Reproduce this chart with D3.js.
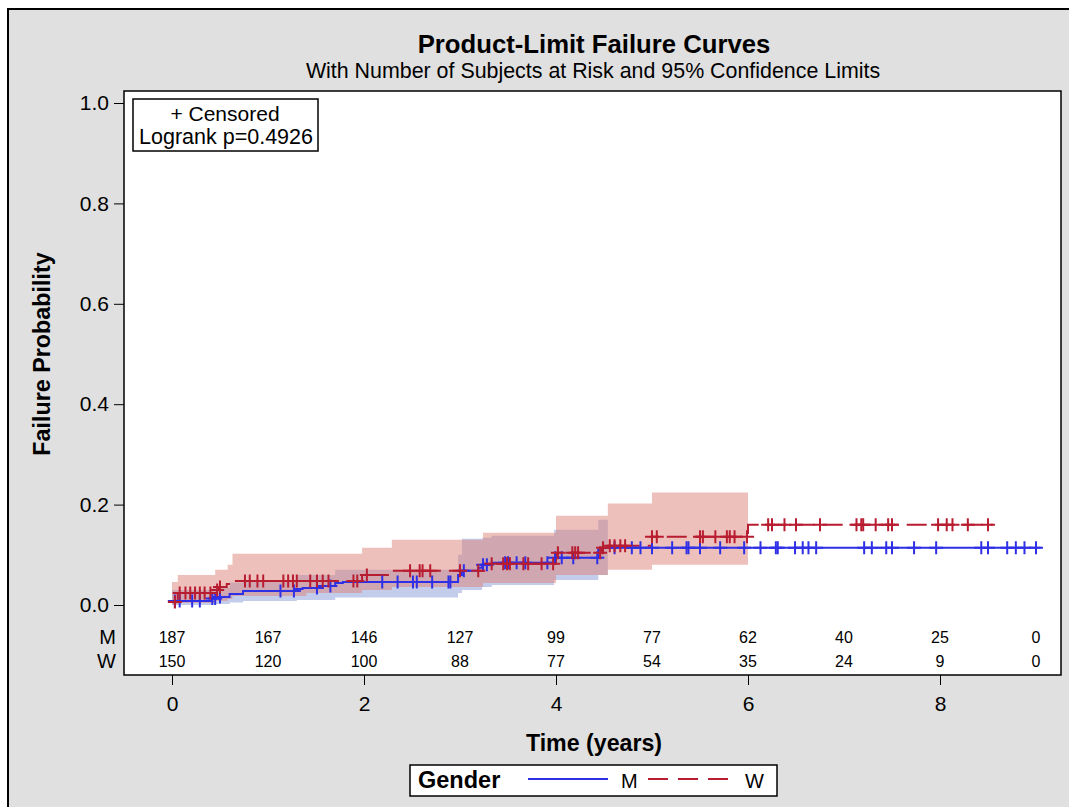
<!DOCTYPE html>
<html>
<head>
<meta charset="utf-8">
<script src="https://cdn.jsdelivr.net/npm/d3@7"></script>
<style>
  body { margin: 0; background: #fff; }
  text { font-family: "Liberation Sans", Arial, sans-serif; fill: #000; }
</style>
</head>
<body>
<div id="chart"></div>
<script>
// Kaplan-Meier failure curves
let timeM = [0, 0.42, 0.47, 0.60, 0.74, 1.28, 1.36, 1.52, 1.70, 1.78, 2.98, 3.02, 3.19, 3.23, 3.33, 3.98, 4.44, 4.48];
let failM = [0.008, 0.013, 0.016, 0.022, 0.028, 0.032, 0.034, 0.038, 0.044, 0.046, 0.060, 0.068, 0.074, 0.080, 0.084, 0.094, 0.110, 0.114];
let endM = 9.05;

let timeW = [0, 0.06, 0.42, 0.48, 0.57, 0.625, 1.98, 2.29, 3.24, 4.00, 4.48, 4.54, 5.00, 6.00];
let failW = [0.006, 0.024, 0.030, 0.036, 0.042, 0.048, 0.060, 0.068, 0.082, 0.104, 0.114, 0.118, 0.136, 0.160];
let endW = 8.55;

// 95% confidence limits
let ciTimeM = [0, 0.42, 0.60, 0.74, 1.30, 1.70, 2.98, 3.02, 3.23, 3.33, 3.98, 4.44];
let ciLowM  = [0.000, 0.002, 0.005, 0.008, 0.010, 0.015, 0.024, 0.030, 0.036, 0.040, 0.050, 0.060];
let ciHighM = [0.030, 0.035, 0.045, 0.050, 0.060, 0.070, 0.100, 0.132, 0.134, 0.138, 0.150, 0.170];
let ciEndM = 4.54;

let ciTimeW = [0, 0.06, 0.45, 0.58, 0.63, 1.40, 1.98, 2.29, 3.24, 4.00, 4.54, 5.00];
let ciLowW  = [0.001, 0.004, 0.008, 0.012, 0.018, 0.024, 0.030, 0.036, 0.044, 0.060, 0.070, 0.080];
let ciHighW = [0.046, 0.060, 0.070, 0.080, 0.102, 0.102, 0.114, 0.130, 0.144, 0.178, 0.202, 0.224];
let ciEndW = 6.0;

// censored observations (years)
let censM = [0.03, 0.08, 0.21, 0.29, 0.42, 0.45, 0.50, 1.13, 1.27, 1.51, 1.65, 2.19, 2.35, 2.51, 2.55, 2.71, 2.88, 2.90,
  3.04, 3.24, 3.28, 3.47, 3.50, 3.59, 3.68, 3.91, 3.99, 4.06, 4.18, 4.43, 4.61, 4.79, 4.88, 5.00, 5.21, 5.36, 5.38,
  5.50, 5.71, 5.96, 6.13, 6.29, 6.31, 6.49, 6.57, 6.63, 6.71, 7.21, 7.29, 7.44, 7.50, 7.73, 7.96, 8.43, 8.50, 8.70,
  8.79, 8.88, 9.00];
let censW = [0.03, 0.08, 0.14, 0.19, 0.24, 0.29, 0.34, 0.40, 0.47, 0.50, 0.76, 0.81, 0.89, 0.95, 1.16, 1.21, 1.26, 1.30,
  1.44, 1.51, 1.57, 1.63, 1.89, 1.93, 2.03, 2.48, 2.58, 2.61, 2.69, 3.00, 3.19, 3.33, 3.45, 3.49, 3.52, 3.66, 3.71,
  3.85, 3.97, 4.02, 4.17, 4.20, 4.23, 4.46, 4.49, 4.56, 4.61, 4.67, 4.72, 5.00, 5.05, 5.50, 5.53, 5.66, 5.78, 5.81,
  5.86, 5.99, 6.21, 6.25, 6.38, 6.50, 6.75, 7.13, 7.18, 7.20, 7.33, 7.46, 7.50, 7.98, 8.07, 8.13, 8.29, 8.50];

// number at risk table
let riskTimes = [0, 1, 2, 3, 4, 5, 6, 7, 8, 9];
let riskM = [187, 167, 146, 127, 99, 77, 62, 40, 25, 0];
let riskW = [150, 120, 100, 88, 77, 54, 35, 24, 9, 0];

let xTicks = [0, 2, 4, 6, 8];
let yTicks = [0.0, 0.2, 0.4, 0.6, 0.8, 1.0];

let blue = "#2f2fe6", red = "#b81c30";
let width = 1069, height = 807;
let frame = {left: 124, right: 1061, top: 91, bottom: 675};

let svg = d3.select("#chart").append("svg")
    .attr("width", width)
    .attr("height", height);

// grey page with border
svg.append("rect")
    .attr("x", 8).attr("y", 9)
    .attr("width", 1080).attr("height", 820)
    .attr("fill", "#e0e0e0")
    .attr("stroke", "#000").attr("stroke-width", 2);

svg.append("rect")
    .attr("x", frame.left).attr("y", frame.top)
    .attr("width", frame.right - frame.left).attr("height", frame.bottom - frame.top)
    .attr("fill", "#fff");

let x = d3.scaleLinear().domain([0, 9]).range([172, 1036]);
let y = d3.scaleLinear().domain([0, 1]).range([605, 103]);

function stepAt(times, vals, t) {
  let v = vals[0];
  for (let i = 0; i < times.length; i++) {
    if (times[i] <= t) v = vals[i];
  }
  return v;
}

function bandData(times, lo, hi, end) {
  let d = times.map((t, i) => ({t: t, lo: lo[i], hi: hi[i]}));
  d.push({t: end, lo: lo[lo.length - 1], hi: hi[hi.length - 1]});
  return d;
}

function curveData(times, vals, end) {
  let d = times.map((t, i) => ({t: t, p: vals[i]}));
  d.push({t: end, p: vals[vals.length - 1]});
  return d;
}

let area = d3.area()
    .curve(d3.curveStepAfter)
    .x(d => x(d.t))
    .y0(d => y(d.lo))
    .y1(d => y(d.hi));

let line = d3.line()
    .curve(d3.curveStepAfter)
    .x(d => x(d.t))
    .y(d => y(d.p));

// confidence bands
svg.append("path")
    .datum(bandData(ciTimeM, ciLowM, ciHighM, ciEndM))
    .attr("d", area)
    .attr("fill", "rgb(135,155,215)")
    .attr("fill-opacity", 0.5);

svg.append("path")
    .datum(bandData(ciTimeW, ciLowW, ciHighW, ciEndW))
    .attr("d", area)
    .attr("fill", "rgb(222,130,120)")
    .attr("fill-opacity", 0.5);

// step curves
svg.append("path")
    .datum(curveData(timeM, failM, endM))
    .attr("d", line)
    .attr("fill", "none")
    .attr("stroke", blue)
    .attr("stroke-width", 2);

svg.append("path")
    .datum(curveData(timeW, failW, endW))
    .attr("d", line)
    .attr("fill", "none")
    .attr("stroke", red)
    .attr("stroke-width", 2)
    .attr("stroke-dasharray", "20,8");

// censor marks
function drawCensored(cens, times, vals, color) {
  let g = svg.append("g")
      .attr("stroke", color)
      .attr("stroke-width", 2);
  g.selectAll("path")
      .data(cens)
      .enter()
      .append("path")
      .attr("d", function(t) {
        let cx = x(t), cy = y(stepAt(times, vals, t));
        return `M${cx - 7},${cy}H${cx + 7}M${cx},${cy - 6.5}V${cy + 6.5}`;
      });
}
drawCensored(censM, timeM, failM, blue);
drawCensored(censW, timeW, failW, red);

// frame on top
svg.append("rect")
    .attr("x", frame.left).attr("y", frame.top)
    .attr("width", frame.right - frame.left).attr("height", frame.bottom - frame.top)
    .attr("fill", "none")
    .attr("stroke", "#000").attr("stroke-width", 1.5);

// y axis
let yAxis = svg.append("g")
    .attr("transform", `translate(${frame.left}, 0)`)
    .call(d3.axisLeft(y).tickValues(yTicks).tickFormat(d3.format(".1f")).tickSize(10).tickPadding(5));
yAxis.select(".domain").remove();
yAxis.selectAll("text").style("font-size", "21px").style("font-family", "Liberation Sans, Arial, sans-serif");
yAxis.selectAll("line").attr("stroke", "#000");

// x axis
let xAxis = svg.append("g")
    .attr("transform", `translate(0, ${frame.bottom})`)
    .call(d3.axisBottom(x).tickValues(xTicks).tickSize(10).tickPadding(11));
xAxis.select(".domain").remove();
xAxis.selectAll("text").style("font-size", "21px").style("font-family", "Liberation Sans, Arial, sans-serif");
xAxis.selectAll("line").attr("stroke", "#000");

// at risk table
let rows = [["M", riskM, 637], ["W", riskW, 661]];
rows.forEach(function(r) {
  svg.append("text")
      .attr("x", 116).attr("y", r[2])
      .attr("dy", "0.35em")
      .style("text-anchor", "end")
      .style("font-size", "20px")
      .text(r[0]);
  svg.selectAll(null)
      .data(r[1])
      .enter()
      .append("text")
      .attr("x", (d, i) => x(riskTimes[i]))
      .attr("y", r[2])
      .attr("dy", "0.35em")
      .style("text-anchor", "middle")
      .style("font-size", "16px")
      .text(d => d);
});

// titles
svg.append("text")
    .attr("x", 594).attr("y", 53)
    .style("text-anchor", "middle")
    .style("font-size", "25.7px")
    .style("font-weight", "bold")
    .text("Product-Limit Failure Curves");

svg.append("text")
    .attr("x", 593).attr("y", 78)
    .style("text-anchor", "middle")
    .style("font-size", "21.4px")
    .text("With Number of Subjects at Risk and 95% Confidence Limits");

svg.append("text")
    .attr("transform", "translate(50, 354) rotate(-90)")
    .style("text-anchor", "middle")
    .style("font-size", "23.3px")
    .style("font-weight", "bold")
    .text("Failure Probability");

svg.append("text")
    .attr("x", 594).attr("y", 751)
    .style("text-anchor", "middle")
    .style("font-size", "23.2px")
    .style("font-weight", "bold")
    .text("Time (years)");

// inset box
svg.append("rect")
    .attr("x", 133).attr("y", 99)
    .attr("width", 185).attr("height", 52)
    .attr("fill", "#fff")
    .attr("stroke", "#000").attr("stroke-width", 1.5);
svg.append("text")
    .attr("x", 225).attr("y", 121)
    .style("text-anchor", "middle")
    .style("font-size", "21px")
    .text("+ Censored");
svg.append("text")
    .attr("x", 226).attr("y", 144)
    .style("text-anchor", "middle")
    .style("font-size", "21.5px")
    .text("Logrank p=0.4926");

// legend
let legend = svg.append("g");
legend.append("rect")
    .attr("x", 410).attr("y", 765)
    .attr("width", 367).attr("height", 31)
    .attr("fill", "#fff")
    .attr("stroke", "#000").attr("stroke-width", 1.5);
legend.append("text")
    .attr("x", 418).attr("y", 788)
    .style("font-size", "23.5px")
    .style("font-weight", "bold")
    .text("Gender");
legend.append("line")
    .attr("x1", 528).attr("x2", 608).attr("y1", 779).attr("y2", 779)
    .attr("stroke", blue).attr("stroke-width", 2);
legend.append("text")
    .attr("x", 621).attr("y", 788)
    .style("font-size", "20px")
    .text("M");
legend.append("line")
    .attr("x1", 648).attr("x2", 728).attr("y1", 779).attr("y2", 779)
    .attr("stroke", red).attr("stroke-width", 2)
    .attr("stroke-dasharray", "20,10");
legend.append("text")
    .attr("x", 745).attr("y", 788)
    .style("font-size", "20px")
    .text("W");
</script>
</body>
</html>
